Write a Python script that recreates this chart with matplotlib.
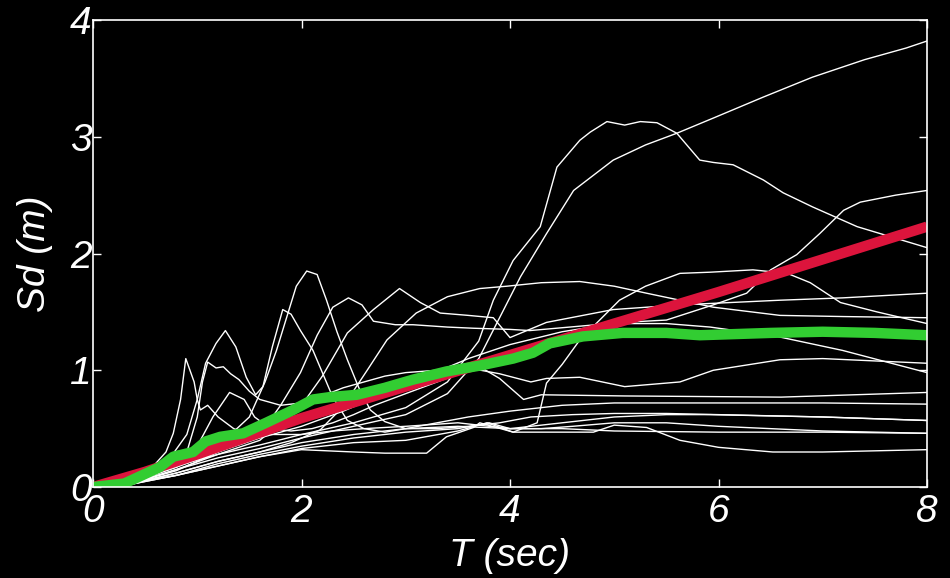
# Response spectra - Sd vs T

# Libraries
import matplotlib
matplotlib.use("Agg")
import matplotlib.pyplot as plt


# Data
# single records (T in sec, Sd in m)
records = [
    ([0, 0.4, 0.8, 1.2, 1.6, 2.0, 2.5, 3.0, 3.4, 3.7, 3.9, 4.1, 4.35, 4.61, 4.99, 5.3, 5.6, 5.95, 6.43, 6.9, 7.4, 7.8, 8.0],
     [0, 0.04, 0.15, 0.25, 0.33, 0.42, 0.52, 0.62, 0.80, 1.10, 1.45, 1.8, 2.17, 2.54, 2.80, 2.93, 3.03, 3.16, 3.34, 3.51, 3.66, 3.76, 3.82]),
    ([0, 0.4, 0.8, 1.2, 1.6, 2.0, 2.5, 3.0, 3.4, 3.7, 3.84, 4.03, 4.29, 4.45, 4.67, 4.77, 4.93, 5.1, 5.25, 5.41, 5.6, 5.82, 5.95, 6.14, 6.43, 6.62, 6.9, 7.33, 8.0],
     [0, 0.05, 0.18, 0.28, 0.36, 0.45, 0.55, 0.68, 0.90, 1.25, 1.60, 1.94, 2.23, 2.74, 2.97, 3.04, 3.13, 3.10, 3.13, 3.12, 3.03, 2.80, 2.78, 2.76, 2.63, 2.52, 2.40, 2.23, 2.05]),
    ([0, 0.4, 0.8, 1.2, 1.5, 1.65, 1.76, 1.86, 1.95, 2.05, 2.15, 2.24, 2.34, 2.44, 2.55, 2.66, 2.8, 3.0, 3.3, 3.6, 3.9, 4.2, 4.6, 5.0, 5.5, 6.0, 7.0, 8.0],
     [0, 0.05, 0.17, 0.35, 0.6, 0.9, 1.17, 1.46, 1.72, 1.85, 1.82, 1.6, 1.33, 1.09, 0.85, 0.66, 0.56, 0.5, 0.5, 0.52, 0.55, 0.6, 0.62, 0.63, 0.63, 0.62, 0.6, 0.57]),
    ([0, 0.4, 0.7, 0.9, 1.0, 1.08, 1.18, 1.27, 1.37, 1.47, 1.56, 1.63, 1.72, 1.82, 1.9, 1.99, 2.11, 2.2, 2.3, 2.44, 2.6, 2.8, 3.0, 3.3, 3.6, 4.0, 4.5, 5.0, 6.0, 7.0, 8.0],
     [0, 0.05, 0.2, 0.45, 0.75, 1.06, 1.23, 1.34, 1.2, 0.94, 0.79, 0.86, 1.2, 1.52, 1.48, 1.34, 1.17, 0.98, 0.77, 0.57, 0.5, 0.47, 0.5, 0.55, 0.6, 0.65, 0.7, 0.72, 0.72, 0.72, 0.71]),
    ([0, 0.3, 0.5, 0.7, 0.77, 0.84, 0.89, 0.93, 0.97, 1.0, 1.03, 1.1, 1.2, 1.35, 1.5, 1.7, 2.0, 2.3, 2.6, 3.0, 3.5, 4.0, 4.5, 5.0, 6.0, 7.0, 8.0],
     [0, 0.04, 0.1, 0.3, 0.46, 0.75, 1.10, 1.0, 0.9, 0.75, 0.66, 0.7, 0.6, 0.5, 0.45, 0.45, 0.45, 0.48, 0.5, 0.52, 0.55, 0.5, 0.5, 0.48, 0.47, 0.47, 0.46]),
    ([0, 0.4, 0.7, 0.9, 1.0, 1.05, 1.1, 1.18, 1.25, 1.32, 1.4, 1.5, 1.6, 1.8, 2.0, 2.2, 2.4, 2.6, 2.8, 3.0, 3.3, 3.6, 3.9, 4.2, 4.35, 4.67, 5.1, 5.63, 5.95, 6.59, 7.0, 8.0],
     [0, 0.04, 0.15, 0.3, 0.6, 0.9, 1.07, 1.02, 1.03, 0.97, 0.92, 0.82, 0.75, 0.7, 0.72, 0.78, 0.85, 0.9, 0.95, 0.98, 1.0, 1.02, 0.97, 0.9, 0.93, 0.94, 0.86, 0.9, 1.0, 1.09, 1.1, 1.06]),
    ([0, 0.4, 0.8, 1.0, 1.15, 1.31, 1.45, 1.55, 1.7, 1.9, 2.1, 2.3, 2.5, 2.7, 3.0, 3.3, 3.6, 3.71, 3.9, 4.13, 4.3, 5.1, 6.6, 8.0],
     [0, 0.05, 0.2, 0.35, 0.6, 0.81, 0.75, 0.6, 0.5, 0.48, 0.5, 0.55, 0.62, 0.7, 0.8, 0.9, 1.0, 1.03, 0.93, 0.75, 0.79, 0.78, 0.77, 0.81]),
    ([0, 0.4, 0.8, 1.2, 1.6, 1.8, 1.99, 2.15, 2.3, 2.45, 2.58, 2.69, 2.9, 3.07, 3.4, 3.65, 4.0, 4.19, 4.7, 5.08, 5.5, 5.95, 6.27, 6.5, 6.75, 6.97, 7.2, 7.36, 7.7, 8.0],
     [0, 0.04, 0.14, 0.3, 0.45, 0.7, 0.98, 1.3, 1.54, 1.62, 1.56, 1.42, 1.39, 1.39, 1.37, 1.36, 1.35, 1.34, 1.38, 1.41, 1.43, 1.56, 1.66, 1.86, 1.99, 2.17, 2.37, 2.44, 2.5, 2.54]),
    ([0, 0.4, 0.8, 1.2, 1.6, 2.0, 2.2, 2.44, 2.69, 2.94, 3.14, 3.33, 3.6, 3.84, 4.0, 4.35, 4.99, 5.63, 6.59, 7.19, 8.0],
     [0, 0.04, 0.15, 0.28, 0.4, 0.7, 0.95, 1.32, 1.52, 1.70, 1.58, 1.49, 1.47, 1.45, 1.28, 1.41, 1.52, 1.56, 1.6, 1.62, 1.66]),
    ([0, 0.4, 0.8, 1.2, 1.6, 1.9, 2.18, 2.4, 2.63, 2.82, 3.1, 3.4, 3.71, 3.97, 4.3, 4.67, 5.0, 5.31, 5.95, 6.59, 7.2, 8.0],
     [0, 0.04, 0.12, 0.22, 0.3, 0.38, 0.49, 0.69, 1.0, 1.26, 1.49, 1.63, 1.70, 1.72, 1.75, 1.76, 1.72, 1.66, 1.54, 1.47, 1.46, 1.45]),
    ([0, 0.4, 0.8, 1.2, 1.6, 2.0, 2.5, 3.0, 3.5, 3.78, 4.03, 4.26, 4.35, 4.5, 4.67, 5.05, 5.3, 5.63, 5.92, 6.33, 6.66, 6.88, 7.17, 7.52, 8.0],
     [0, 0.04, 0.1, 0.18, 0.26, 0.33, 0.38, 0.4, 0.48, 0.55, 0.47, 0.55, 0.89, 1.05, 1.26, 1.6, 1.72, 1.83, 1.84, 1.86, 1.83, 1.75, 1.58, 1.5, 1.4]),
    ([0, 0.4, 0.8, 1.2, 1.6, 2.0, 2.4, 2.8, 3.2, 3.6, 4.0, 4.5, 5.0, 5.5, 5.92, 6.56, 7.19, 8.0],
     [0, 0.05, 0.17, 0.3, 0.42, 0.52, 0.65, 0.8, 0.95, 1.1, 1.22, 1.33, 1.40, 1.40, 1.37, 1.29, 1.17, 0.98]),
    ([0, 0.4, 0.8, 1.2, 1.6, 2.0, 2.5, 3.0, 3.5, 4.0, 4.5, 5.0, 5.5, 5.92, 7.0, 8.0],
     [0, 0.03, 0.12, 0.22, 0.3, 0.38, 0.45, 0.5, 0.52, 0.5, 0.55, 0.6, 0.62, 0.62, 0.6, 0.57]),
    ([0, 0.4, 0.8, 1.2, 1.6, 2.0, 2.5, 3.0, 3.5, 3.8, 4.0, 4.3, 4.6, 5.0, 5.5, 6.0, 7.0, 8.0],
     [0, 0.03, 0.1, 0.2, 0.28, 0.35, 0.42, 0.47, 0.5, 0.55, 0.5, 0.5, 0.52, 0.55, 0.55, 0.52, 0.48, 0.46]),
    ([0, 0.4, 0.8, 1.2, 1.6, 2.0, 2.5, 2.8, 3.2, 3.39, 3.65, 3.71, 4.03, 4.8, 5.0, 5.31, 5.63, 6.0, 6.52, 7.0, 8.0],
     [0, 0.03, 0.1, 0.18, 0.26, 0.32, 0.3, 0.29, 0.29, 0.43, 0.51, 0.55, 0.47, 0.47, 0.53, 0.51, 0.40, 0.34, 0.30, 0.30, 0.32]),
]

# target (straight) spectrum
T_target = [0, 0.5, 1, 2, 3, 4, 5, 6, 7, 8]
Sd_target = [0, 0.13, 0.28, 0.59, 0.86, 1.13, 1.40, 1.67, 1.95, 2.23]

# mean of records
T_mean = [0, 0.3, 0.64, 0.77, 0.96, 1.08, 1.22, 1.44, 1.66, 1.92, 2.11, 2.27, 2.53, 2.8, 3.07, 3.39, 3.71, 4.03,
          4.22, 4.38, 4.7, 5.08, 5.5, 5.82, 6.5, 7.0, 7.5, 8.0]
Sd_mean = [0, 0.03, 0.17, 0.26, 0.30, 0.39, 0.43, 0.46, 0.55, 0.66, 0.75, 0.77, 0.79, 0.85, 0.92, 0.99, 1.04, 1.10,
           1.15, 1.23, 1.29, 1.32, 1.32, 1.30, 1.32, 1.33, 1.32, 1.30]

x_ticks = [0, 2, 4, 6, 8]
y_ticks = [0, 1, 2, 3, 4]


# Setup/Config
plt.rcParams["font.family"] = ["Liberation Sans", "DejaVu Sans"]
plt.rcParams["font.style"] = "italic"
plt.rcParams["font.size"] = 28

fig = plt.figure(figsize=[9.5, 5.78], dpi=100, facecolor="black")
ax = fig.add_axes([0.0979, 0.1574, 0.8779, 0.808])
ax.set_facecolor("black")

# Records
for (t, sd) in records:
    ax.plot(t, sd, color="white", lw=1.0, solid_joinstyle="round")

ax.plot(T_target, Sd_target, color="#DC143C", lw=7.5, solid_capstyle="butt")
ax.plot(T_mean, Sd_mean, color="#32CD32", lw=7.5, solid_capstyle="butt", solid_joinstyle="round")

# Axes
ax.set_xlim(0, 8)
ax.set_ylim(0, 4)
ax.set_xticks(x_ticks)
ax.set_yticks(y_ticks)
ax.set_xticklabels([str(x) for x in x_ticks])
ax.set_yticklabels([str(y) for y in y_ticks])

for s in ax.spines.values():
    s.set_color("white")
    s.set_linewidth(1.2)

ax.tick_params(axis="both", direction="in", colors="white", length=6, width=1.0,
               top=True, right=True, labelsize=28)
ax.tick_params(axis="x", pad=5)
ax.tick_params(axis="y", pad=1)

ax.set_xlabel("T (sec)", color="white", fontsize=28, va="top")
ax.xaxis.set_label_coords(0.5, -0.11)
ax.set_ylabel("Sd (m)", color="white", fontsize=28)
ax.yaxis.set_label_coords(-0.048, 0.5)

# Printing
fig.savefig("out.png", dpi=100, facecolor="black")
plt.close(fig)
